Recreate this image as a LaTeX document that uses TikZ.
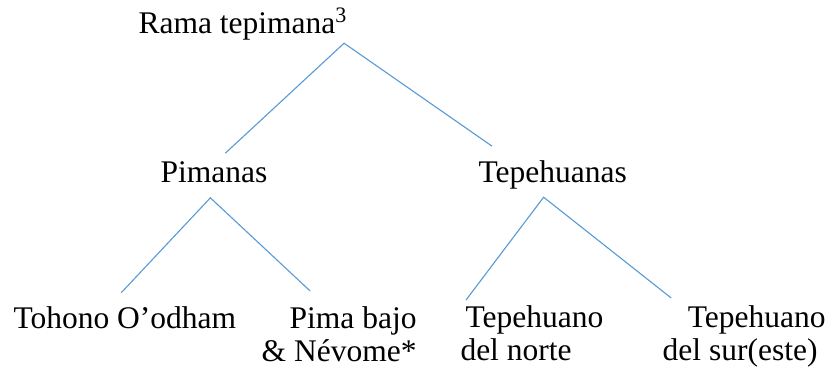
\documentclass[tikz,border=0pt]{standalone}
\usepackage{fontspec}
\setmainfont{Liberation Serif}
\definecolor{branchblue}{RGB}{91,155,213}
\begin{document}
\begin{tikzpicture}[x=0.4pt, y=-0.4pt,
        lang/.style={inner sep=0pt, font=\fontsize{12.6}{13.2}\selectfont},
        branch/.style={draw=branchblue, line width=0.45pt}]
        \useasboundingbox (0,0) rectangle (830,373);
        \node at (138,33) [lang, anchor=base west] (root) {Rama tepimana\textsuperscript{3}};
        \node at (160,182) [lang, anchor=base west] (pim) {Pimanas};
        \node at (478,182) [lang, anchor=base west] (tep) {Tepehuanas};
        \node at (13,328) [lang, anchor=base west] (toh) {Tohono O’odham};
        \node at (417,306) [lang, anchor=north east, align=right] (pbajo) {Pima bajo\\\& Névome*};
        \node at (460,305.5) [lang, anchor=north west, align=left] (tnorte) {\kern2pt Tepehuano\\del norte};
        \node at (826,305.5) [lang, anchor=north east, align=right] (tsur) {Tepehuano\\del sur(este)\kern3.2pt};

        \draw[branch] ([shift={(11.5,-7.5)}]pim.north) -- ([shift={(-4,3)}]root.south east) -- ([shift={(14,-13.5)}]tep.north west);
        \draw[branch] ([shift={(-3.5,-13)}]toh.north) -- ([shift={(-3.5,15)}]pim.south) -- ([shift={(49,-15)}]pbajo.north west);
        \draw[branch] ([shift={(6,-5.5)}]tnorte.north west) -- ([shift={(-9,8)}]tep.south) -- ([shift={(9,-7.5)}]tsur.north west);
    \end{tikzpicture}
\end{document}
